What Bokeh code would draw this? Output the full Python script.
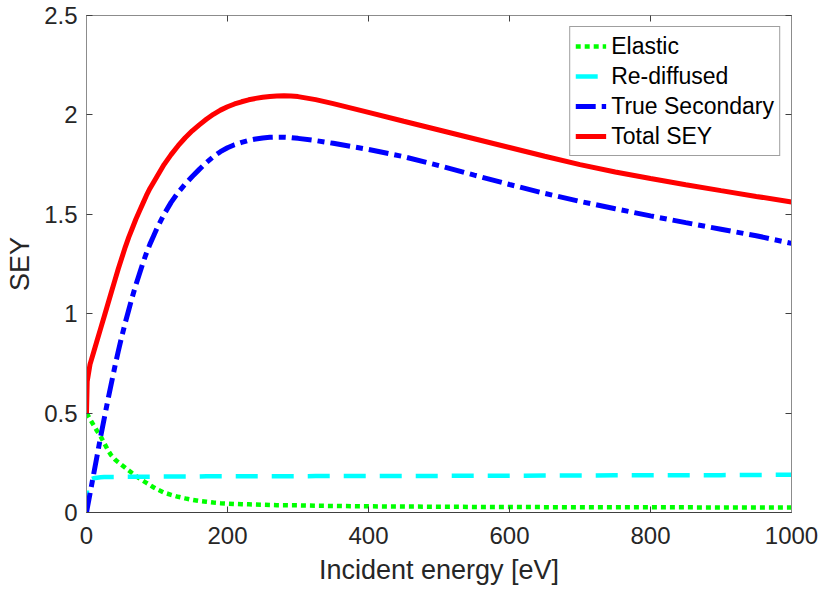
from bokeh.plotting import figure
from bokeh.models import Range1d, LinearAxis, FixedTicker, NumeralTickFormatter, Legend, LegendItem, ColumnDataSource
from bokeh.embed import file_html
from bokeh.resources import INLINE

energy = [0, 1, 5, 10, 15, 20, 25, 30, 35, 40, 45, 50, 55, 60, 65, 70, 75, 80, 85, 90, 95, 100,
          110, 120, 130, 140, 150, 160, 170, 180, 190, 200, 210, 220, 230, 240, 250, 260, 270, 280,
          290, 300, 325, 350, 400, 450, 500, 550, 600, 650, 700, 750, 800, 850, 900, 950, 1000]
elastic = [0.50, 0.495, 0.47, 0.44, 0.41, 0.383, 0.35, 0.316, 0.288, 0.268, 0.253, 0.239, 0.225,
           0.211, 0.197, 0.184, 0.172, 0.160, 0.149, 0.138, 0.127, 0.117,
           0.100, 0.089, 0.079, 0.071, 0.064, 0.058, 0.054, 0.050, 0.047, 0.045, 0.043, 0.042,
           0.041, 0.040, 0.039, 0.038, 0.037, 0.037, 0.036, 0.036, 0.034, 0.033, 0.031, 0.030,
           0.029, 0.028, 0.028, 0.027, 0.027, 0.026, 0.026, 0.026, 0.025, 0.025, 0.025]
rediffused = [0.0, 0.15, 0.165, 0.172, 0.175, 0.177, 0.178, 0.178, 0.179, 0.179, 0.179, 0.180,
              0.180, 0.180, 0.180, 0.180, 0.180, 0.180, 0.180, 0.180, 0.181, 0.181,
              0.181, 0.181, 0.181, 0.181, 0.181, 0.181, 0.182, 0.182, 0.182, 0.182, 0.182, 0.182,
              0.182, 0.182, 0.182, 0.182, 0.182, 0.182, 0.182, 0.182, 0.183, 0.183, 0.183, 0.184,
              0.184, 0.185, 0.185, 0.186, 0.186, 0.187, 0.187, 0.188, 0.188, 0.189, 0.190]
true_secondary = [0.0, 0.02, 0.095, 0.19, 0.285, 0.38, 0.47, 0.56, 0.645, 0.73, 0.81, 0.885,
                  0.955, 1.02, 1.085, 1.145, 1.20, 1.255, 1.305, 1.35, 1.39, 1.43,
                  1.50, 1.56, 1.61, 1.652, 1.69, 1.726, 1.76, 1.79, 1.815, 1.835, 1.85, 1.862,
                  1.872, 1.879, 1.884, 1.887, 1.888, 1.888, 1.886, 1.882, 1.871, 1.857, 1.826,
                  1.790, 1.745, 1.697, 1.650, 1.605, 1.565, 1.528, 1.492, 1.458, 1.425, 1.392, 1.354]
total_sey = [0.50, 0.66, 0.745, 0.805, 0.865, 0.925, 0.985, 1.045, 1.105, 1.165, 1.225, 1.28,
             1.335, 1.385, 1.43, 1.475, 1.515, 1.555, 1.595, 1.63, 1.66, 1.69,
             1.75, 1.80, 1.845, 1.885, 1.92, 1.95, 1.978, 2.003, 2.024, 2.041, 2.055, 2.066,
             2.076, 2.083, 2.089, 2.093, 2.095, 2.096, 2.095, 2.092, 2.077, 2.057, 2.013, 1.968,
             1.924, 1.880, 1.836, 1.792, 1.750, 1.713, 1.680, 1.649, 1.619, 1.590, 1.562]

x_ticks = [0, 200, 400, 600, 800, 1000]
y_ticks = [0, 0.5, 1, 1.5, 2, 2.5]

src = ColumnDataSource(dict(e=energy, el=elastic, rd=rediffused, ts=true_secondary, tot=total_sey))

FONT = "Liberation Sans"
TXT = "#262626"

p = figure(width=821, height=590, output_backend="svg", toolbar_location=None,
           x_range=Range1d(0, 1000), y_range=Range1d(0, 2.5),
           min_border_left=86, min_border_right=30, min_border_top=15, min_border_bottom=78)
p.xgrid.visible = False
p.ygrid.visible = False
p.outline_line_color = "#8c8c8c"
p.outline_line_width = 1
p.background_fill_color = "white"
p.border_fill_color = "white"

def style_axis(ax, ticks, labels=True):
    ax.ticker = FixedTicker(ticks=ticks)
    ax.minor_tick_line_color = None
    ax.major_tick_in = 6
    ax.major_tick_out = 0
    ax.major_tick_line_color = "#404040"
    ax.axis_line_color = "#8c8c8c"
    ax.major_label_text_font = FONT
    ax.major_label_text_font_size = "24px"
    ax.major_label_text_color = TXT
    ax.formatter = NumeralTickFormatter(format="0.[0]")
    if not labels:
        ax.major_label_text_font_size = "0px"
        ax.major_label_text_color = None

style_axis(p.xaxis[0], x_ticks)
style_axis(p.yaxis[0], y_ticks)
p.xaxis[0].axis_line_color = "#404040"
p.xaxis[0].major_label_standoff = 14
p.yaxis[0].major_label_standoff = 9
p.xaxis[0].axis_label = "Incident energy [eV]"
p.yaxis[0].axis_label = "SEY"
for ax in (p.xaxis[0], p.yaxis[0]):
    ax.axis_label_text_font = FONT
    ax.axis_label_text_font_size = "27px"
    ax.axis_label_text_font_style = "normal"
    ax.axis_label_text_color = TXT
p.xaxis[0].axis_label_standoff = 8
p.yaxis[0].axis_label_standoff = 6

top = LinearAxis()
style_axis(top, x_ticks, labels=False)
p.add_layout(top, "above")
right = LinearAxis()
style_axis(right, y_ticks, labels=False)
p.add_layout(right, "right")

r_el = p.line("e", "el", source=src, line_color="#00ff00", line_width=4.5, line_dash="5 4", line_cap="butt")
r_rd = p.line("e", "rd", source=src, line_color="#00ffff", line_width=4.5, line_dash="22 14", line_cap="butt")
r_ts = p.line("e", "ts", source=src, line_color="#0000ff", line_width=5, line_dash="20 6 7 6", line_cap="butt")
r_tot = p.line("e", "tot", source=src, line_color="#ff0000", line_width=5)

legend = Legend(items=[
    LegendItem(label="Elastic", renderers=[r_el]),
    LegendItem(label="Re-diffused", renderers=[r_rd]),
    LegendItem(label="True Secondary", renderers=[r_ts]),
    LegendItem(label="Total SEY", renderers=[r_tot]),
], location="top_right")
legend.label_text_font = FONT
legend.label_text_font_size = "23px"
legend.label_text_color = "black"
legend.border_line_color = "#404040"
legend.border_line_width = 1
legend.background_fill_color = "white"
legend.background_fill_alpha = 1
legend.glyph_width = 31
legend.glyph_height = 28
legend.label_height = 28
legend.label_standoff = 5
legend.spacing = 2
legend.padding = 5
legend.margin = 11
p.add_layout(legend, "center")

open("out.html", "w").write(file_html(p, INLINE))
